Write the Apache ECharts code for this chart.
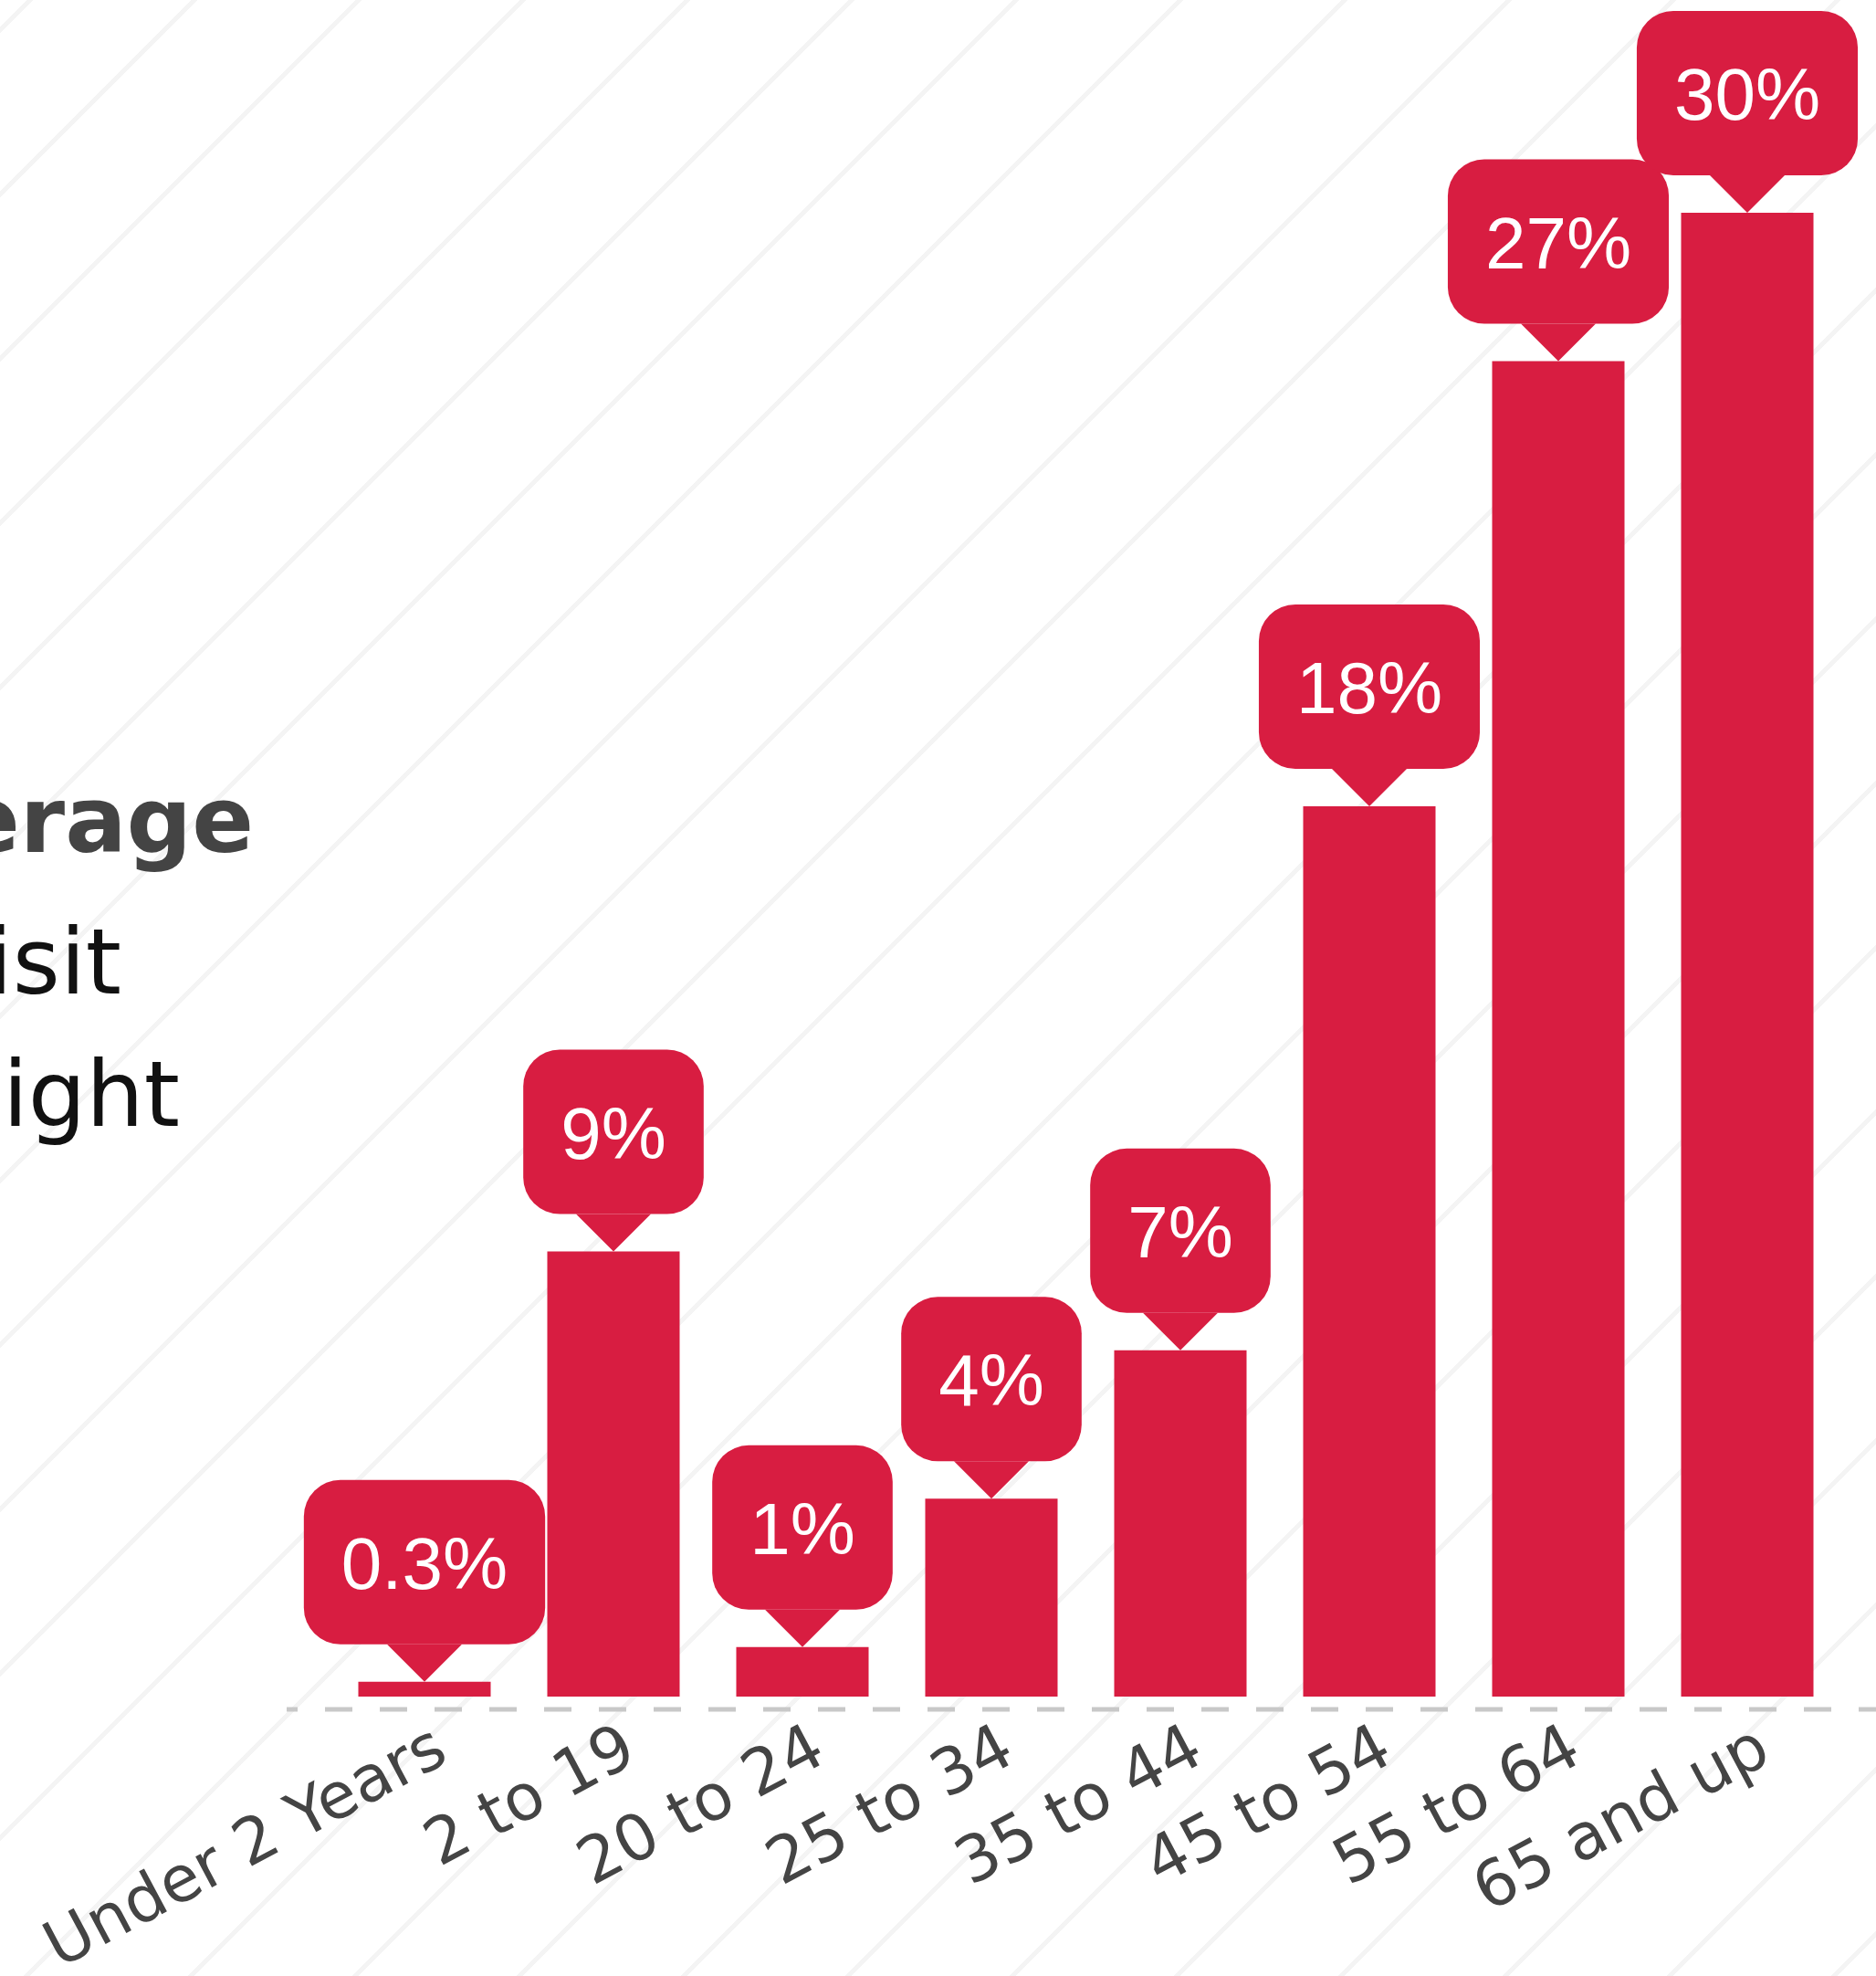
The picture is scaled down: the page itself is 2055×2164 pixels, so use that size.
<!DOCTYPE html>
<html>
<head>
<meta charset="utf-8">
<script src="https://cdn.jsdelivr.net/npm/echarts@6/dist/echarts.min.js"></script>
<style>
html, body { margin: 0; padding: 0; }
#chart {
  width: 2055px; height: 2164px;
  background: repeating-linear-gradient(135deg, #ffffff 0px, #ffffff 20.8px, #f4f4f4 20.8px, #f4f4f4 25.8px, #ffffff 25.8px, #ffffff 127.28px);
}
</style>
</head>
<body>
<div id="chart"></div>
<script>
var categories = ['Under 2 Years', '2 to 19', '20 to 24', '25 to 34', '35 to 44', '45 to 54', '55 to 64', '65 and up'];
var shareValues = [0.3, 9, 1, 4, 7, 18, 27, 30];
var sideTexts = ['erage', 'isit', 'ight'];

var RED = '#d81d41';
var chart = echarts.init(document.getElementById('chart'), null, { renderer: 'canvas' });

chart.setOption({
  backgroundColor: 'transparent',
  animation: false,
  grid: [
    { left: 361.5, right: 37.5, top: 233, bottom: 306, containLabel: false, outerBoundsMode: 'none' },
    { left: 381.5, right: 17.5, top: 233, bottom: 306, containLabel: false, outerBoundsMode: 'none' }
  ],
  xAxis: [
    {
      type: 'category', gridIndex: 0,
      data: categories,
      boundaryGap: true,
      axisLine: { show: false },
      axisTick: { show: false },
      axisLabel: { show: false }
    },
    {
      type: 'category', gridIndex: 1,
      data: categories,
      boundaryGap: true,
      axisLine: { show: false },
      axisTick: { show: false },
      axisLabel: {
        rotate: 28,
        margin: 54,
        color: '#444444',
        fontFamily: 'DejaVu Sans',
        fontSize: 70,
        interval: 0
      }
    }
  ],
  yAxis: [
    { type: 'value', gridIndex: 0, min: 0, max: 30, show: false, splitLine: { show: false } },
    { type: 'value', gridIndex: 1, min: 0, max: 30, show: false, splitLine: { show: false } }
  ],
  graphic: [
    {
      type: 'line', silent: true, z: 1,
      shape: { x1: 314, y1: 1872, x2: 2055, y2: 1872 },
      style: { stroke: '#c8c8c8', lineWidth: 5, lineDash: [30, 30], lineDashOffset: 18 }
    },
    {
      type: 'text', left: -46, top: 857, silent: true,
      style: { text: sideTexts[0], fill: '#444444', font: 'bold 100px "DejaVu Sans"' }
    },
    {
      type: 'text', left: -14, top: 1012, silent: true,
      style: { text: sideTexts[1], fill: '#111111', font: '100px "DejaVu Sans"' }
    },
    {
      type: 'text', left: 3, top: 1157, silent: true,
      style: { text: sideTexts[2], fill: '#111111', font: '100px "DejaVu Sans"' }
    }
  ],
  series: [
    {
      type: 'bar',
      xAxisIndex: 0, yAxisIndex: 0,
      data: shareValues,
      barWidth: 145,
      itemStyle: { color: RED },
      z: 2,
      label: {
        show: true,
        position: 'top',
        distance: 41,
        formatter: '{c}%',
        color: '#ffffff',
        fontFamily: 'Liberation Sans, Arial, sans-serif',
        fontSize: 80,
        lineHeight: 80,
        backgroundColor: RED,
        borderRadius: 40,
        padding: [57, 41, 43, 41]
      },
      emphasis: { disabled: true }
    },
    {
      type: 'scatter',
      xAxisIndex: 0, yAxisIndex: 0,
      data: shareValues,
      symbol: 'path://M0,0 L2,0 L1,1 Z',
      symbolSize: [82, 41],
      symbolOffset: [0, -20.5],
      itemStyle: { color: RED, opacity: 1 },
      z: 3,
      silent: true,
      emphasis: { disabled: true }
    }
  ]
});
</script>
</body>
</html>
